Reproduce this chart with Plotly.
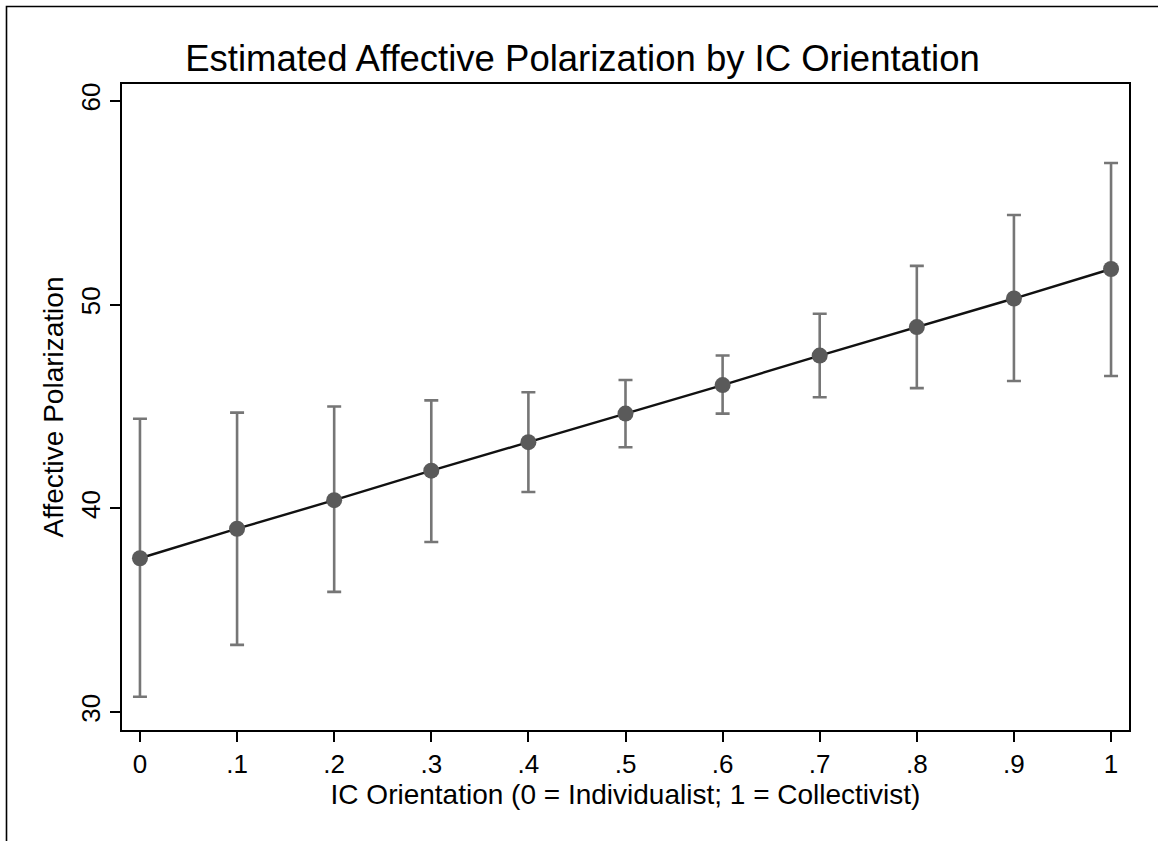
import plotly.graph_objects as go

# Data
ic_orientation = [0.0, 0.1, 0.2, 0.3, 0.4, 0.5, 0.6, 0.7, 0.8, 0.9, 1.0]
estimate = [37.55, 39.0, 40.4, 41.85, 43.25, 44.65, 46.05, 47.5, 48.9, 50.3, 51.75]
ci_upper = [44.4, 44.7, 45.0, 45.3, 45.7, 46.3, 47.5, 49.55, 51.9, 54.4, 56.95]
ci_lower = [30.75, 33.3, 35.9, 38.35, 40.8, 43.0, 44.65, 45.45, 45.9, 46.25, 46.5]

x_tick_vals = [0.0, 0.1, 0.2, 0.3, 0.4, 0.5, 0.6, 0.7, 0.8, 0.9, 1.0]
x_tick_text = ["0", ".1", ".2", ".3", ".4", ".5", ".6", ".7", ".8", ".9", "1"]
y_tick_vals = [30, 40, 50, 60]

err_plus = [u - e for u, e in zip(ci_upper, estimate)]
err_minus = [e - l for e, l in zip(estimate, ci_lower)]

FONT = "Liberation Sans, Arial, Helvetica, sans-serif"

fig = go.Figure()
fig.add_trace(go.Scatter(
    x=ic_orientation,
    y=estimate,
    mode="lines+markers",
    line=dict(color="#111111", width=2.4),
    marker=dict(color="#5a5a5a", size=16, line=dict(width=0)),
    error_y=dict(
        type="data",
        symmetric=False,
        array=err_plus,
        arrayminus=err_minus,
        color="#767676",
        thickness=2.6,
        width=7,
    ),
    showlegend=False,
))

W, H = 1158, 841
ml, mr, mt, mb = 122, 29, 84, 111
pw = W - ml - mr
ph = H - mt - mb

def px_to_paper_x(px):
    return (px - ml) / pw

def px_to_paper_y(py):
    return (H - mb - py) / ph

fig.update_layout(
    width=W,
    height=H,
    margin=dict(l=ml, r=mr, t=mt, b=mb, pad=0),
    paper_bgcolor="white",
    plot_bgcolor="white",
    font=dict(family=FONT, color="black"),
    title=dict(
        text="Estimated Affective Polarization by IC Orientation",
        x=0.503,
        xanchor="center",
        xref="container",
        y=1 - 58 / H,
        yref="container",
        yanchor="middle",
        font=dict(size=36.5, family=FONT, color="black"),
    ),
    xaxis=dict(
        range=[-0.0185, 1.0185],
        tickvals=x_tick_vals,
        ticktext=x_tick_text,
        ticks="outside",
        ticklen=10,
        tickwidth=1.8,
        tickcolor="black",
        showline=True,
        linecolor="black",
        linewidth=2,
        mirror=True,
        showgrid=False,
        zeroline=False,
        tickfont=dict(size=26, family=FONT, color="black"),
        title=dict(
            text="IC Orientation (0 = Individualist; 1 = Collectivist)",
            font=dict(size=28, family=FONT, color="black"),
            standoff=4,
        ),
    ),
    yaxis=dict(
        range=[29.12, 60.83],
        tickvals=y_tick_vals,
        ticks="outside",
        ticklen=10,
        tickwidth=1.8,
        tickcolor="black",
        tickangle=-90,
        showline=True,
        linecolor="black",
        linewidth=2,
        mirror=True,
        showgrid=False,
        zeroline=False,
        tickfont=dict(size=26, family=FONT, color="black"),
        title=dict(
            text="Affective Polarization",
            font=dict(size=28, family=FONT, color="black"),
            standoff=4,
        ),
    ),
    shapes=[
        dict(
            type="rect",
            xref="paper",
            yref="paper",
            x0=px_to_paper_x(6.5),
            x1=px_to_paper_x(1175),
            y0=px_to_paper_y(860),
            y1=px_to_paper_y(6.5),
            line=dict(color="black", width=1.6),
            fillcolor="rgba(0,0,0,0)",
            layer="above",
        )
    ],
)

fig.write_html("out.html")
